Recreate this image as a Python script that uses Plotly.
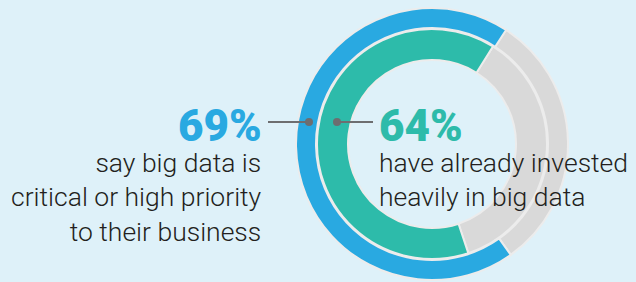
import plotly.graph_objects as go

# Data
outer_labels = ["Not critical", "Critical or high priority"]
outer_values = [31, 69]
inner_labels = ["Not invested heavily", "Invested heavily"]
inner_values = [36, 64]

BG = "#def1f9"
BLUE = "#29a9e1"
TEAL = "#2dbbaa"
GRAY = "#d9d9d9"
EDGE = "#ececec"
W, H = 636, 282

def px_x(v):
    return v / W

def px_y(v):
    return 1 - v / H

cx, cy = 432, 144
r_out, r_in = 136, 115

fig = go.Figure()
fig.add_trace(go.Pie(
    labels=outer_labels, values=outer_values, sort=False, direction="clockwise",
    rotation=33, hole=116 / 136, textinfo="none", hoverinfo="label+percent",
    marker=dict(colors=[GRAY, BLUE], line=dict(color=EDGE, width=2)),
    domain=dict(x=[px_x(cx - r_out), px_x(cx + r_out)], y=[px_y(cy + r_out), px_y(cy - r_out)]),
    showlegend=False,
))
fig.add_trace(go.Pie(
    labels=inner_labels, values=inner_values, sort=False, direction="clockwise",
    rotation=32, hole=84 / 115, textinfo="none", hoverinfo="label+percent",
    marker=dict(colors=[GRAY, TEAL], line=dict(color=EDGE, width=2)),
    domain=dict(x=[px_x(cx - r_in), px_x(cx + r_in)], y=[px_y(cy + r_in), px_y(cy - r_in)]),
    showlegend=False,
))

# connector lines and dots
LINE = "#6d6e70"
ly = 122
fig.add_shape(type="line", xref="paper", yref="paper", x0=px_x(268), x1=px_x(309), y0=px_y(ly), y1=px_y(ly),
              line=dict(color=LINE, width=2))
fig.add_shape(type="line", xref="paper", yref="paper", x0=px_x(337), x1=px_x(373), y0=px_y(ly), y1=px_y(ly),
              line=dict(color=LINE, width=2))
for dx in (309, 337):
    fig.add_shape(type="circle", xref="paper", yref="paper",
                  x0=px_x(dx - 4), x1=px_x(dx + 4), y0=px_y(ly + 4), y1=px_y(ly - 4),
                  fillcolor=LINE, line=dict(width=0))

BIG = dict(family="Roboto, Liberation Sans, Arial, sans-serif", size=44, weight=900)
BODY = dict(family="Roboto, Liberation Sans, sans-serif", size=26.5, color="#231f20", weight=300)

fig.add_annotation(text="69%", x=px_x(264), y=px_y(126), xref="paper", yref="paper",
                   xanchor="right", yanchor="middle", showarrow=False, font=dict(**BIG, color=BLUE))
fig.add_annotation(text="say big data is<br>critical or high priority<br>to their business",
                   x=px_x(264), y=px_y(145), xref="paper", yref="paper", align="right",
                   xanchor="right", yanchor="top", showarrow=False, font=BODY)
fig.add_annotation(text="64%", x=px_x(377), y=px_y(126), xref="paper", yref="paper",
                   xanchor="left", yanchor="middle", showarrow=False, font=dict(**BIG, color=TEAL))
fig.add_annotation(text="have already invested<br>heavily in big data",
                   x=px_x(377), y=px_y(145), xref="paper", yref="paper", align="left",
                   xanchor="left", yanchor="top", showarrow=False, font=BODY)

fig.update_layout(width=W, height=H, margin=dict(l=0, r=0, t=0, b=0),
                  paper_bgcolor=BG, plot_bgcolor=BG)
fig.write_html("out.html", config={"displayModeBar": False},
               post_script="document.body.style.margin='0px';document.body.style.background='" + BG + "';")
